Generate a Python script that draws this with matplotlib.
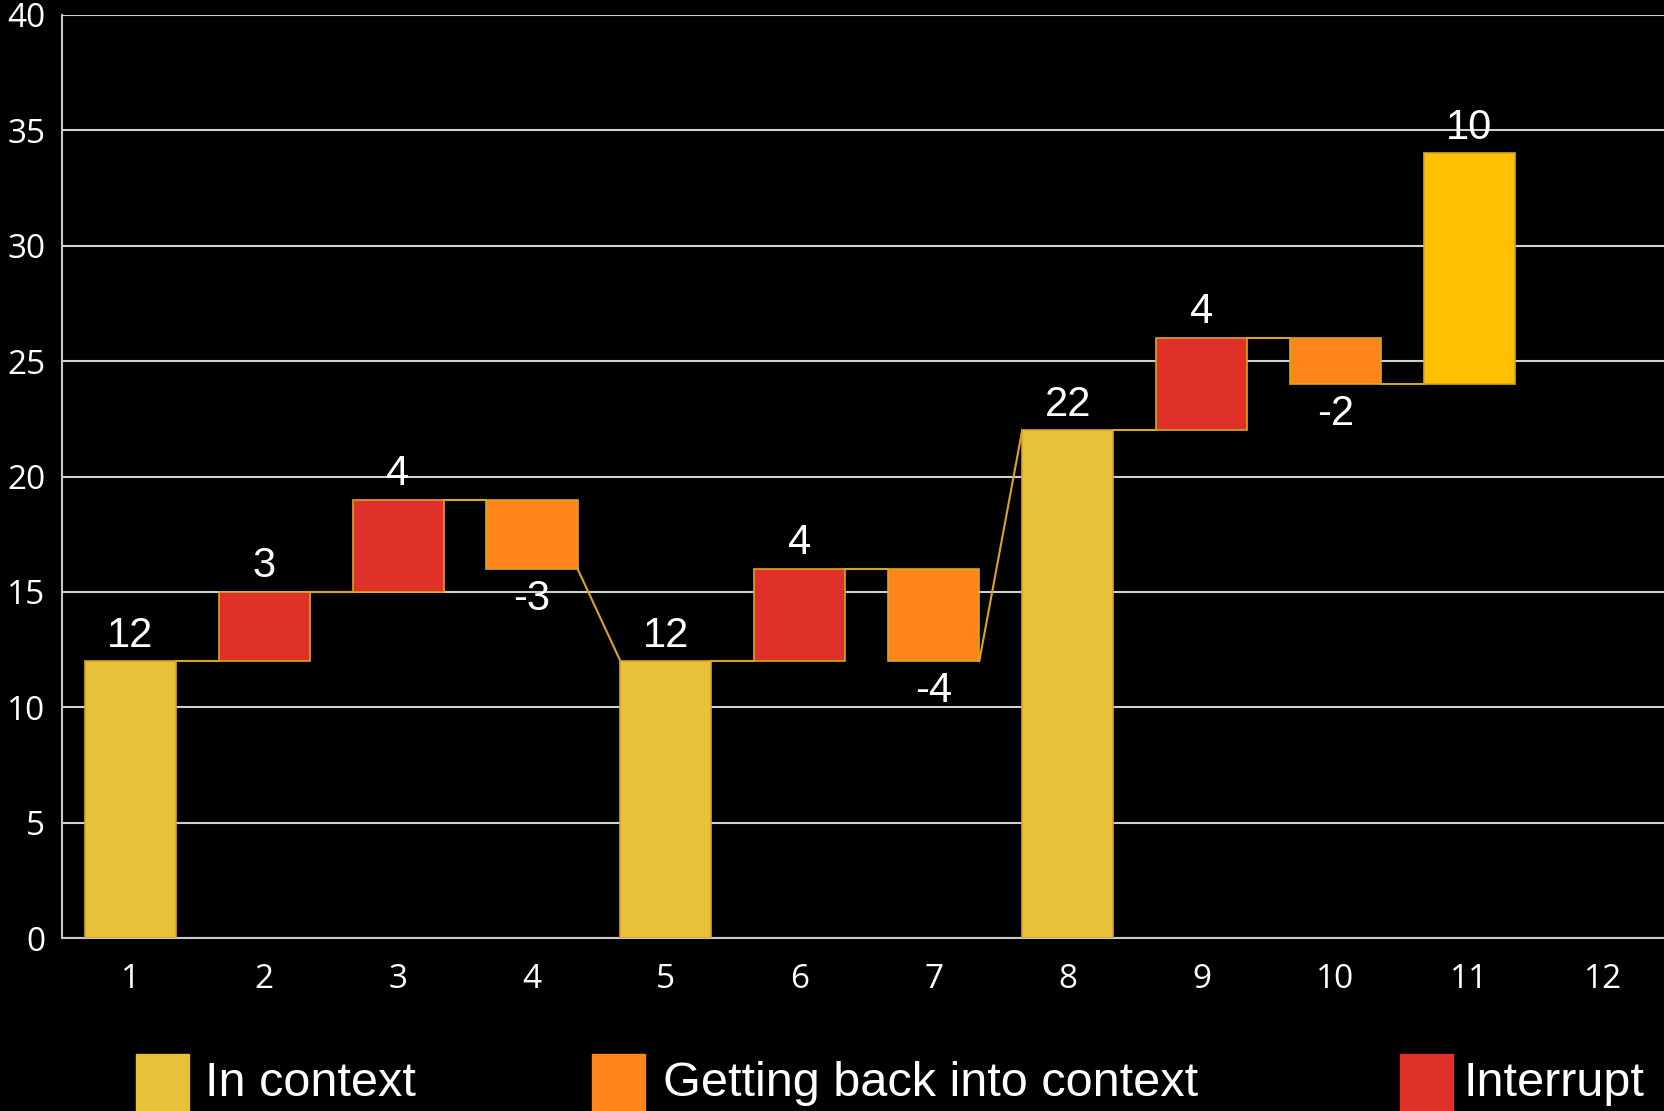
import numpy as np
import matplotlib.pyplot as plt
from matplotlib.patches import Rectangle

# waterfall data
steps = ['1', '2', '3', '4', '5', '6', '7', '8', '9', '10', '11']
values = [12, 3, 4, -3, 12, 4, -4, 22, 4, -2, 10]
kinds = ['ctx', 'int', 'int', 'back', 'ctx', 'int', 'back', 'ctx', 'int', 'back', 'total']
xticks = list(range(1, 13))
yticks = [0, 5, 10, 15, 20, 25, 30, 35, 40]

colors = {'ctx': '#E8C13A', 'int': '#E0302A', 'back': '#FF851B', 'total': '#FFC000'}
legend_names = ['In context', 'Getting back into context', 'Interrupt']
legend_colors = [colors['ctx'], colors['back'], colors['int']]

edge = '#D9A521'
width = 0.68

fig = plt.figure(figsize=(16.65, 11.11), dpi=100, facecolor='black')
ax = fig.add_axes([0.0372, 0.1557, 0.9628, 0.8308])
ax.set_facecolor('black')

# compute bases / tops
bases, tops, ins, outs = [], [], [], []
level = 0
for v, k in zip(values, kinds):
    if k == 'ctx':
        b, t = 0, v
        ins.append(v)
        level = v
    else:
        b, t = level, level + v
        ins.append(level)
        level = level + v
    bases.append(min(b, t))
    tops.append(max(b, t))
    outs.append(level)

x = np.arange(1, len(values) + 1)
for i in range(len(values)):
    ax.bar(x[i], tops[i] - bases[i], bottom=bases[i], width=width,
           color=colors[kinds[i]], edgecolor=edge, linewidth=1.2, zorder=3)

# connectors
for i in range(len(values) - 1):
    ax.plot([x[i] + width / 2, x[i + 1] - width / 2], [outs[i], ins[i + 1]],
            color=edge, linewidth=1.5, zorder=2)

# value labels
for i, v in enumerate(values):
    if v >= 0:
        ax.annotate(str(v), (x[i], tops[i]), xytext=(0, 4), textcoords='offset points',
                    ha='center', va='bottom', color='white', fontsize=30,
                    family='Liberation Sans', zorder=4)
    else:
        ax.annotate(str(v), (x[i], bases[i]), xytext=(0, -7), textcoords='offset points',
                    ha='center', va='top', color='white', fontsize=30,
                    family='Liberation Sans', zorder=4)

ax.set_xlim(0.49, 12.46)
ax.set_ylim(0, 40)
ax.set_xticks(xticks)
ax.set_yticks(yticks)
ax.grid(axis='y', color='#D0D0D0', linewidth=1.5, zorder=0)
ax.set_axisbelow(True)
for s in ['top', 'right']:
    ax.spines[s].set_visible(False)
for s in ['left', 'bottom']:
    ax.spines[s].set_color('#C8C8C8')
    ax.spines[s].set_linewidth(1.5)
ax.tick_params(axis='both', length=0, colors='white', labelsize=24)
ax.tick_params(axis='x', pad=18)
ax.tick_params(axis='y', pad=12)
for lab in ax.get_xticklabels() + ax.get_yticklabels():
    lab.set_family('Open Sans')

# legend, laid out by hand
patch_x = [136, 592, 1400]
text_x = [205, 663, 1464]
for px, tx, name, c in zip(patch_x, text_x, legend_names, legend_colors):
    fig.patches.append(Rectangle((px / 1665, 0), 53 / 1665, 57 / 1111,
                                 transform=fig.transFigure, color=c))
    fig.text(tx / 1665, 0.025, name, color='white', fontsize=35,
             family='Liberation Sans', va='center', ha='left')

fig.savefig('out.png', dpi=100, facecolor='black')
